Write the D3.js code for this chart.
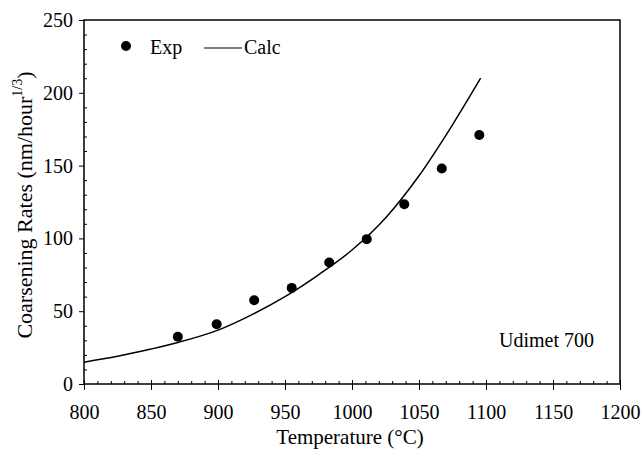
<!DOCTYPE html>
<html>
<head>
<meta charset="utf-8">
<title>Coarsening Rates - Udimet 700</title>
<style>
  body { margin: 0; background: #fff; }
  svg text { font-family: "Liberation Serif", "Times New Roman", serif; fill: #000; }
  .axis path { display: none; }
  .axis line { stroke: #000; stroke-width: 1; }
</style>
</head>
<body>
<svg width="642" height="456"></svg>
<script src="https://d3js.org/d3.v7.min.js"></script>
<script>
// experimental points (temperature, rate)
var expTemp = [870, 899, 927, 955, 983, 1011, 1039, 1067, 1095];
var expRate = [32.5, 41, 57.5, 66, 83.5, 99.5, 123.5, 148, 171];

// calculated curve
var calcTemp = [800, 825, 850, 870, 900, 925, 950, 975, 1000, 1025, 1050, 1075, 1096];
var calcRate = [15, 19, 24, 28.5, 37, 47.5, 60, 75, 92, 114, 143, 178, 210];

var xTicks = [800, 850, 900, 950, 1000, 1050, 1100, 1150, 1200];
var yTicks = [0, 50, 100, 150, 200, 250];

var svg = d3.select("svg");
var plotL = 84, plotR = 620, plotT = 20, plotB = 384;

var x = d3.scaleLinear().domain([800, 1200]).range([plotL, plotR]);
var y = d3.scaleLinear().domain([0, 250]).range([plotB, plotT]);

// frame
svg.append("rect")
    .attr("x", plotL).attr("y", plotT)
    .attr("width", plotR - plotL).attr("height", plotB - plotT)
    .attr("fill", "none").attr("stroke", "#000").attr("stroke-width", 1.5);

// minor ticks, every 10 units, drawn inside
var xMinor = d3.range(800, 1201, 10).filter(function(d) { return d % 50 != 0; });
var yMinor = d3.range(0, 251, 10).filter(function(d) { return d % 50 != 0; });

svg.append("g").attr("class", "axis")
    .attr("transform", "translate(0," + plotB + ")")
    .call(d3.axisTop(x).tickValues(xMinor).tickSize(3).tickFormat(""));

svg.append("g").attr("class", "axis")
    .attr("transform", "translate(" + plotL + ",0)")
    .call(d3.axisRight(y).tickValues(yMinor).tickSize(3).tickFormat(""));

// major ticks and labels
var xAxis = svg.append("g").attr("class", "axis")
    .attr("transform", "translate(0," + plotB + ")")
    .call(d3.axisBottom(x).tickValues(xTicks).tickSize(6).tickPadding(15).tickFormat(d3.format("d")));
xAxis.selectAll("line").attr("y1", -4);
xAxis.selectAll("text").attr("font-size", 20);

var yAxis = svg.append("g").attr("class", "axis")
    .attr("transform", "translate(" + plotL + ",0)")
    .call(d3.axisLeft(y).tickValues(yTicks).tickSize(5).tickPadding(6).tickFormat(d3.format("d")));
yAxis.selectAll("text").attr("font-size", 20);

// calculated curve
var line = d3.line()
    .x(function(d, i) { return x(calcTemp[i]); })
    .y(function(d) { return y(d); })
    .curve(d3.curveMonotoneX);

svg.append("path")
    .datum(calcRate)
    .attr("d", line)
    .attr("fill", "none")
    .attr("stroke", "#000")
    .attr("stroke-width", 1.5);

// experimental points
svg.append("g").selectAll("circle")
    .data(expRate)
    .enter().append("circle")
      .attr("cx", function(d, i) { return x(expTemp[i]); })
      .attr("cy", function(d) { return y(d); })
      .attr("r", 5)
      .attr("fill", "#000");

// legend
var legend = svg.append("g").attr("font-size", 20);
legend.append("circle").attr("cx", 126).attr("cy", 46).attr("r", 5).attr("fill", "#000");
legend.append("text").attr("x", 150).attr("y", 54).text("Exp");
legend.append("line").attr("x1", 204).attr("x2", 242).attr("y1", 48).attr("y2", 48)
    .attr("stroke", "#000").attr("stroke-width", 1.2);
legend.append("text").attr("x", 244).attr("y", 54).text("Calc");

// annotation
svg.append("text")
    .attr("x", 594).attr("y", 347)
    .attr("text-anchor", "end")
    .attr("font-size", 20)
    .text("Udimet 700");

// axis titles
svg.append("text")
    .attr("x", 350).attr("y", 444)
    .attr("text-anchor", "middle")
    .attr("font-size", 21)
    .text("Temperature (°C)");

var yTitle = svg.append("text")
    .attr("transform", "translate(32,205) rotate(-90)")
    .attr("text-anchor", "middle")
    .attr("font-size", 22);
yTitle.append("tspan").text("Coarsening Rates (nm/hour");
yTitle.append("tspan").attr("dy", -10).attr("font-size", 14).text("1/3");
yTitle.append("tspan").attr("dy", 10).text(")");
</script>
</body>
</html>
